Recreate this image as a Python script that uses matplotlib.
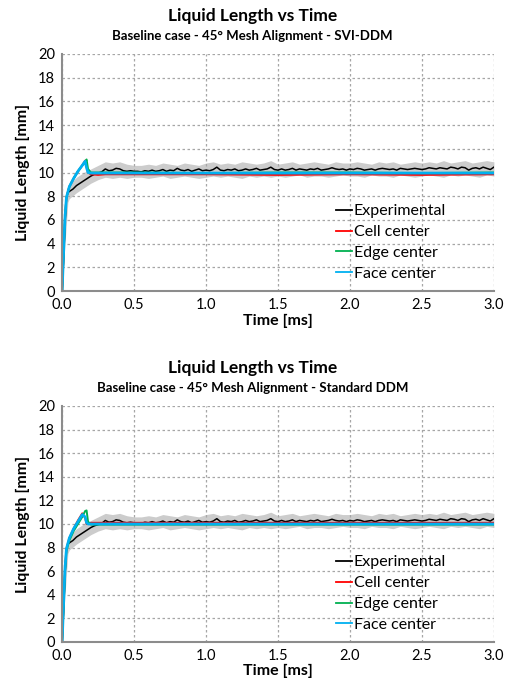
import numpy as np
import matplotlib.pyplot as plt

plt.rcParams['font.family'] = ['Lato', 'DejaVu Sans']

# experimental liquid length (same data in both panels)
exp_t = [0, 0.01, 0.02, 0.03, 0.04] + list(np.round(np.arange(0.05, 3.0001, 0.025), 3))
exp_len = [0, 2.6, 5.6, 7.9, 8.3,
           8.4, 8.6, 8.9, 9.1, 9.3, 9.5, 9.7, 9.85, 9.95, 10.05, 10.3, 10.15, 10.2, 10.35, 10.3, 10.15, 10.1, 10.15, 10.1,
           10.1, 10.05, 10.15, 10.1, 10.2, 10.1, 10.15, 10.25, 10.1, 10.2, 10.15, 10.35, 10.2, 10.15, 10.25, 10.1, 10.2, 10.3, 10.15, 10.2,
           10.15, 10.25, 10.45, 10.2, 10.15, 10.25, 10.2, 10.3, 10.15, 10.2, 10.3, 10.2, 10.25, 10.35, 10.2, 10.25, 10.3, 10.45, 10.25, 10.2,
           10.3, 10.2, 10.25, 10.35, 10.2, 10.3, 10.25, 10.2, 10.3, 10.25, 10.35, 10.2, 10.25, 10.3, 10.4, 10.3, 10.25, 10.3, 10.2, 10.3,
           10.25, 10.35, 10.3, 10.2, 10.25, 10.3, 10.2, 10.3, 10.35, 10.3, 10.25, 10.3, 10.2, 10.35, 10.3, 10.25, 10.3, 10.35, 10.3, 10.25,
           10.3, 10.4, 10.35, 10.3, 10.4, 10.35, 10.3, 10.45, 10.4, 10.3, 10.45, 10.4, 10.2, 10.35, 10.4, 10.3, 10.45, 10.35, 10.25, 10.45]

# experimental scatter band
band_t = [0, 0.02, 0.04] + list(np.round(np.arange(0.05, 3.0001, 0.05), 3))
band_hi = [0, 6.5, 8.9,
           9.0, 9.6, 10.0, 10.3, 10.6, 10.9, 10.8, 10.9, 10.7, 10.6,
           10.6, 10.7, 10.6, 10.8, 10.7, 10.6, 10.8, 10.7, 10.6, 10.8,
           10.9, 10.7, 10.8, 10.7, 10.9, 10.8, 10.7, 10.8, 11.0, 10.7,
           10.8, 10.9, 10.7, 10.8, 10.9, 10.8, 10.7, 10.9, 10.8, 10.8,
           10.9, 10.8, 10.7, 10.9, 10.8, 10.9, 10.7, 10.8, 10.9, 10.8,
           10.9, 10.8, 11.0, 10.8, 10.9, 11.0, 10.8, 10.9, 11.0, 10.9]
band_lo = [0, 4.0, 7.5,
           7.8, 8.3, 8.7, 9.1, 9.4, 9.6, 9.5, 9.6, 9.5, 9.6,
           9.6, 9.5, 9.6, 9.7, 9.5, 9.6, 9.7, 9.6, 9.5, 9.6,
           9.7, 9.6, 9.7, 9.6, 9.5, 9.7, 9.6, 9.7, 9.6, 9.7,
           9.6, 9.7, 9.8, 9.6, 9.7, 9.7, 9.6, 9.7, 9.8, 9.7,
           9.7, 9.6, 9.8, 9.7, 9.7, 9.6, 9.8, 9.7, 9.6, 9.7,
           9.8, 9.7, 9.6, 9.8, 9.7, 9.8, 9.7, 9.6, 9.8, 9.7]

# simulations
sim_t = [0, 0.01, 0.02, 0.03, 0.05, 0.08, 0.11, 0.14, 0.16, 0.17, 0.18, 0.2, 0.25, 0.3, 0.5, 1.0, 1.5, 2.0, 2.5, 3.0]
cell_svi = [0, 3.2, 6.2, 7.9, 8.8, 9.5, 10.1, 10.6, 11.0, 10.5, 10.0, 9.85, 9.8, 9.85, 9.85, 9.85, 9.8, 9.85, 9.8, 9.85]
edge_svi = [0, 3.2, 6.2, 7.9, 8.8, 9.5, 10.1, 10.6, 10.9, 11.1, 10.3, 10.0, 10.0, 10.0, 10.0, 9.95, 10.0, 10.0, 9.95, 10.0]
face_svi = [0, 3.2, 6.2, 7.9, 8.8, 9.5, 10.1, 10.6, 10.95, 10.4, 10.0, 9.95, 9.95, 9.95, 9.95, 9.95, 9.95, 9.95, 9.95, 9.95]
cell_std = [0, 3.2, 6.2, 7.9, 8.8, 9.6, 10.3, 10.9, 10.5, 10.0, 10.05, 10.1, 10.1, 10.1, 10.1, 10.1, 10.1, 10.1, 10.1, 10.1]
edge_std = [0, 3.0, 6.0, 7.7, 8.6, 9.4, 10.0, 10.6, 11.1, 11.15, 10.2, 9.95, 9.95, 9.95, 9.95, 9.95, 9.95, 9.95, 9.95, 9.95]
face_std = [0, 3.2, 6.2, 7.9, 8.8, 9.6, 10.2, 10.8, 10.6, 10.1, 10.0, 10.0, 10.0, 10.0, 10.0, 10.0, 10.0, 10.0, 10.0, 10.0]

panels = [
    ("Baseline case - 45° Mesh Alignment - SVI-DDM", cell_svi, edge_svi, face_svi),
    ("Baseline case - 45° Mesh Alignment - Standard DDM", cell_std, edge_std, face_std),
]

fig = plt.figure(figsize=(5.05, 6.9), dpi=100)
rects = [[0.123, 0.578, 0.855, 0.344], [0.123, 0.0696, 0.855, 0.342]]

for rect, (sub, cell, edge, face) in zip(rects, panels):
    ax = fig.add_axes(rect)
    ax.fill_between(band_t, band_lo, band_hi, color='#cccccc', lw=0)
    ax.plot(exp_t, exp_len, color='black', lw=1.1, label='Experimental')
    ax.plot(sim_t, cell, color='#ff0000', lw=1.4, label='Cell center')
    ax.plot(sim_t, edge, color='#00b050', lw=1.4, label='Edge center')
    ax.plot(sim_t, face, color='#00b0f0', lw=2.0, label='Face center')

    ax.set_xlim(0, 3.0)
    ax.set_ylim(0, 20)
    ax.set_xticks(np.arange(0, 3.01, 0.5))
    ax.set_xticklabels([f"{v:.1f}" for v in np.arange(0, 3.01, 0.5)])
    ax.set_yticks(range(0, 21, 2))
    ax.tick_params(length=0, labelsize=10.5, pad=5)
    ax.grid(True, color='#a6a6a6', linestyle=(0, (2, 2)), lw=0.9)
    for s in ['top', 'right']:
        ax.spines[s].set_visible(False)
    for s in ['left', 'bottom']:
        ax.spines[s].set_color('#8c8c8c')
        ax.spines[s].set_linewidth(1.5)

    ax.set_xlabel("Time [ms]", fontsize=11.5, fontweight='bold', labelpad=1)
    ax.set_ylabel("Liquid Length [mm]", fontsize=11.5, fontweight='bold', labelpad=6)
    # titles are centred on the figure, not on the axes
    top = rect[1] + rect[3]
    fig.text(0.5, top + 0.055, "Liquid Length vs Time",
             ha='center', va='center', fontsize=12.5, fontweight='bold')
    fig.text(0.5, top + 0.026, sub,
             ha='center', va='center', fontsize=9.5, fontweight='bold')
    leg = ax.legend(loc='center left', bbox_to_anchor=(0.635, 0.205), frameon=False,
                    fontsize=11.5, handlelength=1.0, handletextpad=0.1, labelspacing=0.42,
                    borderpad=0, borderaxespad=0)
    for h in leg.get_lines():
        h.set_linewidth(1.3)

fig.savefig("out.png", dpi=100)
